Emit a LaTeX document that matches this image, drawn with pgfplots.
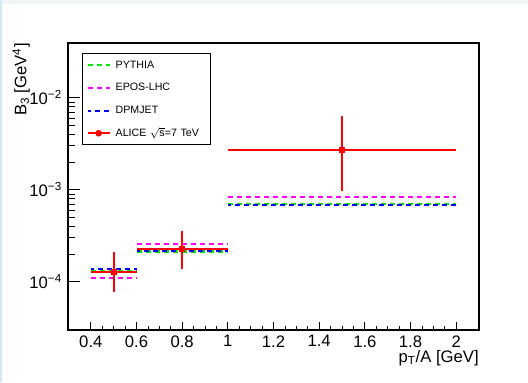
\documentclass[border=0pt]{standalone}
\usepackage{pgfplots}
\usepackage{pgfplotstable}
\pgfplotsset{compat=1.18}
\usepackage{fontspec}
\setmainfont{Liberation Sans}
\definecolor{rgreen}{RGB}{0,230,0}
\definecolor{rmag}{RGB}{255,0,255}
\definecolor{rblue}{RGB}{0,0,255}
\definecolor{rred}{RGB}{255,0,0}
\definecolor{stripA}{RGB}{240,245,248}
\definecolor{stripB}{RGB}{212,234,238}

\pgfplotstableread{
x ex y eym eyp
0.5 0.1 1.285e-4 0.515e-4 0.805e-4
0.8 0.2 2.25e-4 0.89e-4 1.33e-4
1.5 0.5 2.70e-3 1.73e-3 3.63e-3
}\alice

\begin{document}
\begin{tikzpicture}[x=0.75pt,y=0.75pt]
\fill[white] (0,0) rectangle (528,382);
\fill[stripA] (0,378) rectangle (528,382);
\fill[stripB] (0,0) rectangle (2,382);
\useasboundingbox (0,0) rectangle (528,382);
\begin{axis}[
  at={(51pt,39pt)}, anchor=south west,
  scale only axis, width=308.25pt, height=215.25pt,
  xmin=0.3, xmax=2.1,
  ymode=log, ymin=2.98e-5, ymax=0.0394,
  axis line style={line width=0.8pt},
  tick pos=left, tick align=inside,
  xtick={0.4,0.6,0.8,1,1.2,1.4,1.6,1.8,2},
  xticklabels={0.4,0.6,0.8,1,1.2,1.4,1.6,1.8,2},
  minor x tick num=3,
  ytick={1e-4,1e-3,1e-2},
  yticklabels={10\textsuperscript{−4},10\textsuperscript{−3},10\textsuperscript{−2}},
  xtick style={/pgfplots/major tick length=6pt,/pgfplots/minor tick length=3pt,black,line width=0.6pt},
  ytick style={/pgfplots/major tick length=9pt,/pgfplots/minor tick length=5pt,black,line width=0.6pt},
  minor tick style={black,line width=0.6pt},
  ticklabel style={font=\fontsize{12.5}{14}\selectfont},
  xticklabel style={yshift=-0.5pt},
  yticklabel style={xshift=-1pt},
  xlabel={p\textsubscript{T}/A [GeV]},
  xlabel style={font=\fontsize{12.5}{14}\selectfont, at={(axis description cs:1,0)}, anchor=base east, yshift=-24pt, inner sep=0pt},
  ylabel={B\textsubscript{3} [GeV\textsuperscript{4}]},
  ylabel style={font=\fontsize{12.5}{14}\selectfont, at={(axis description cs:-0.114,1)}, anchor=east, inner sep=0pt},
  unbounded coords=jump,
  legend style={at={(axis description cs:0.034,0.965)}, anchor=north west,
    draw=black, line width=0.8pt, fill=white,
    font=\fontsize{8}{9.5}\selectfont,
    inner xsep=3pt, inner ysep=5pt, row sep=9.5pt,
    nodes={text height=6pt, text depth=1.5pt, inner ysep=0pt, inner xsep=3.75pt, text width=64.5pt, align=left}},
  legend cell align=left,
  legend image code/.code={\draw[#1] (0pt,0pt) -- (16.5pt,0pt);},
]
\addplot[rgreen, line width=1.6pt, dash pattern=on 3.75pt off 3pt] coordinates {
(0.4,1.31e-4) (0.6,1.31e-4) (0.6,nan) (0.6,2.13e-4) (1,2.13e-4) (1,nan) (1,7.0e-4) (2,7.0e-4)};
\addlegendentry{PYTHIA}
\addplot[rmag, line width=1.6pt, dash pattern=on 3.75pt off 3pt] coordinates {
(0.4,1.105e-4) (0.6,1.105e-4) (0.6,nan) (0.6,2.57e-4) (1,2.57e-4) (1,nan) (1,8.4e-4) (2,8.4e-4)};
\addlegendentry{EPOS-LHC}
\addplot[rblue, line width=1.6pt, dash pattern=on 3.75pt off 3pt, dash phase=1.5pt] coordinates {
(0.4,1.36e-4) (0.6,1.36e-4) (0.6,nan) (0.6,2.17e-4) (1,2.17e-4) (1,nan) (1,6.75e-4) (2,6.75e-4)};
\addlegendentry{DPMJET}
\addplot[rred, line width=1.5pt, only marks, mark=square*, mark size=1.6pt,
  mark options={solid, fill=rred},
  legend image code/.code={\draw[rred, line width=1.5pt] (0pt,0pt) -- (16.5pt,0pt); \fill[rred] (8.25pt,0pt) circle (1.7pt);},
  error bars/.cd, x dir=both, x explicit, y dir=both, y explicit, error mark=none,
  error bar style={line width=1.5pt, rred}]
  table[x=x, y=y, x error=ex, y error minus=eym, y error plus=eyp] {\alice};
\addlegendentry{ALICE \(\sqrt{\mbox{s}}\)=7 TeV}
\end{axis}
\end{tikzpicture}
\end{document}
